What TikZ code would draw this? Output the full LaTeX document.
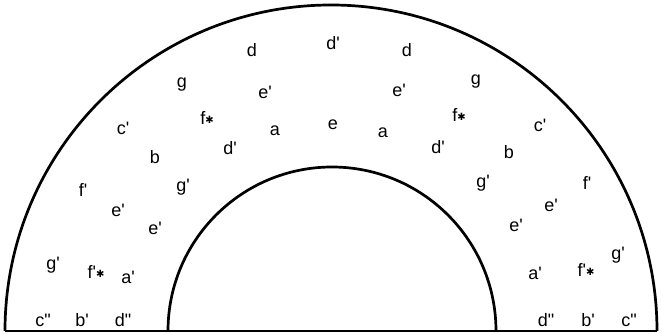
\documentclass[tikz,border=0pt]{standalone}
\usepackage{fontspec}
\newfontfamily\lab{Liberation Sans}
\newfontfamily\symf{DejaVu Sans}
\newcommand{\shp}{{\symf\fontsize{10}{10}\selectfont\raisebox{1pt}{✱}}}
\begin{document}
\begin{tikzpicture}[x=1pt,y=1pt,
  lbl/.style={inner sep=0pt,font=\lab\fontsize{18}{20}\selectfont},
  wall/.style={line width=2.7pt}]
\useasboundingbox (0,0) rectangle (662,334);
\coordinate (oc) at (331,3);
\coordinate (ic) at (332,3);
\coordinate (ol) at (5,3);
\coordinate (orr) at (657,3);
\coordinate (il) at (168,3);
% outer and inner semicircles
\draw[wall] (ol) arc[start angle=180,end angle=0,radius=326];
\draw[wall] (il) arc[start angle=180,end angle=0,radius=164];
\draw[wall] (ol) -- (orr);
% labels (image y flipped: 334 - y)
\node[lbl] (n1) at (252,284) {d};
\node[lbl] (n2) at (333,291) {d'};
\node[lbl] (n3) at (407,284) {d};
\node[lbl] (n4) at (182,249) {g};
\node[lbl] (n5) at (265,242) {e'};
\node[lbl] (n6) at (399,244) {e'};
\node[lbl] (n7) at (476,252) {g};
\node[lbl] (n8) at (207,216) {f\shp};
\node[lbl] (n9) at (459,219) {f\shp};
\node[lbl] (n10) at (123,206) {c'};
\node[lbl] (n11) at (540,209) {c'};
\node[lbl] (n12) at (275,203) {a};
\node[lbl] (n13) at (333,209) {e};
\node[lbl] (n14) at (383,201) {a};
\node[lbl] (n15) at (155,177) {b};
\node[lbl] (n16) at (230,186) {d'};
\node[lbl] (n17) at (438,187) {d'};
\node[lbl] (n18) at (509,182) {b};
\node[lbl] (n19) at (83,144) {f'};
\node[lbl] (n20) at (183,147) {g'};
\node[lbl] (n21) at (483,151) {g'};
\node[lbl] (n22) at (587,151) {f'};
\node[lbl] (n23) at (118,124) {e'};
\node[lbl] (n24) at (155,106) {e'};
\node[lbl] (n25) at (516,109) {e'};
\node[lbl] (n26) at (551,129) {e'};
\node[lbl] (n27) at (53,69) {g'};
\node[lbl] (n28) at (96,62) {f'\shp};
\node[lbl] (n29) at (128,57) {a'};
\node[lbl] (n30) at (535,61) {a'};
\node[lbl] (n31) at (586,64) {f'\shp};
\node[lbl] (n32) at (618,79) {g'};
\node[lbl] (n33) at (43,14) {c"};
\node[lbl] (n34) at (82,14) {b'};
\node[lbl] (n35) at (123,14) {d"};
\node[lbl] (n36) at (546,14) {d"};
\node[lbl] (n37) at (588,14) {b'};
\node[lbl] (n38) at (629,14) {c"};
\end{tikzpicture}
\end{document}
